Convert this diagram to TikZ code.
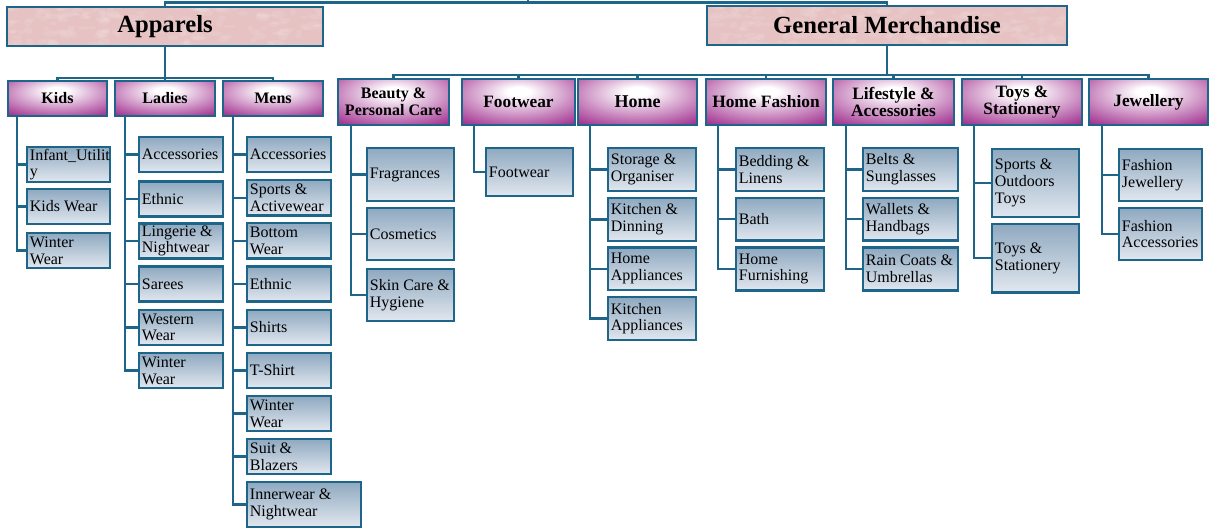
\documentclass[tikz,border=0pt]{standalone}
\usepackage{fontspec}
\setmainfont{Liberation Serif}
\usetikzlibrary{calc}
\definecolor{lineblue}{HTML}{1D6689}
\definecolor{catpurple}{HTML}{9E2A8C}
\definecolor{leaftop}{HTML}{8FA9C0}
\definecolor{leafbot}{HTML}{E1E7EF}
\definecolor{marble}{HTML}{E6C2C3}
\pgfdeclareradialshading{purpbox}{\pgfpoint{0bp}{12bp}}{color(0bp)=(white); color(5bp)=(white); color(40bp)=(catpurple); color(90bp)=(catpurple)}
\pgfdeclarelayer{background}
\pgfsetlayers{background,main}
\tikzset{
  conn/.style={draw=lineblue, line width=1.8pt},
  hdrfill/.style={fill=marble, draw=none, inner sep=0pt, outer sep=0pt},
  hdrbox/.style={draw=lineblue, line width=1.8pt, inner sep=0pt, outer sep=0pt, font=\fontsize{18.5}{20}\selectfont\bfseries},
  catbox/.style={draw=lineblue, line width=1.8pt, shade, shading=purpbox, inner sep=0pt, outer sep=0pt, align=center},
  leafbox/.style={draw=lineblue, line width=1.8pt, top color=leaftop, bottom color=leafbot, inner sep=0pt, outer sep=0pt},
  leaftext/.style={inner sep=0pt, align=left, anchor=west, font=\fontsize{12}{12.5}\selectfont},
}
\newcommand\myleaf[6]{%
  \pgfmathsetmacro\bw{(#4-#2)*0.75}%
  \pgfmathsetmacro\bh{(#5-#3)*0.75}%
  \node[leafbox, minimum width=\bw pt, minimum height=\bh pt] (#1) at ({(#2+#4)/2},{(#3+#5)/2}) {};
  \node[leaftext] (#1-t) at ([xshift=2pt]#1.west) {#6};
}
\newcommand\mycat[7]{%
  \pgfmathsetmacro\bw{(#4-#2)*0.75}%
  \pgfmathsetmacro\bh{(#5-#3)*0.75}%
  \node[catbox, minimum width=\bw pt, minimum height=\bh pt, font=#6] (#1) at ({(#2+#4)/2},{(#3+#5)/2}) {#7};
}
\newcommand\myhdr[6]{%
  \pgfmathsetmacro\bw{(#4-#2)*0.75}%
  \pgfmathsetmacro\bh{(#5-#3)*0.75}%
  \node[hdrfill, minimum width=\bw pt, minimum height=\bh pt] (#1-bg) at ({(#2+#4)/2},{(#3+#5)/2}) {};
  \begin{scope}
    \clip (#1-bg.south west) rectangle (#1-bg.north east);
    \foreach \i in {1,...,160} {
      \fill[white, opacity=0.09] ({#2+(#4-#2)*rnd},{#3+(#5-#3)*rnd}) ellipse [x radius={(2+4*rnd)*1pt}, y radius={(1+2*rnd)*1pt}];
    }
  \end{scope}
  \node[hdrbox, minimum width=\bw pt, minimum height=\bh pt] (#1) at ({(#2+#4)/2},{(#3+#5)/2}) {#6};
}
\begin{document}
\begin{tikzpicture}[x=0.75pt,y=-0.75pt]
\useasboundingbox (0,0) rectangle (1210,529);
\pgfmathsetseed{11}
% headers
\myhdr{apparels}{7}{7}{323}{46}{Apparels}
\myhdr{gm}{707}{6}{1067}{45}{General Merchandise}
% apparels categories
\mycat{kids}{8}{81}{107}{116}{\fontsize{12}{12.5}\selectfont\bfseries}{Kids}
\mycat{ladies}{115}{81}{215}{116}{\fontsize{12}{12.5}\selectfont\bfseries}{Ladies}
\mycat{mens}{223}{81}{323}{116}{\fontsize{12}{12.5}\selectfont\bfseries}{Mens}
% gm categories
\mycat{beauty}{338}{79}{449}{125}{\fontsize{12}{12.5}\selectfont\bfseries}{Beauty \&\\Personal Care}
\mycat{footwear}{462}{79}{575}{125}{\fontsize{13}{13}\selectfont\bfseries}{Footwear}
\mycat{home}{578}{79}{697}{125}{\fontsize{13.5}{13}\selectfont\bfseries}{Home}
\mycat{homefashion}{706}{79}{826}{125}{\fontsize{13}{13}\selectfont\bfseries}{Home Fashion}
\mycat{lifestyle}{833}{79}{954}{125}{\fontsize{13}{13}\selectfont\bfseries}{Lifestyle \&\\Accessories}
\mycat{toys}{962}{79}{1082}{125}{\fontsize{13}{13}\selectfont\bfseries}{Toys \&\\Stationery}
\mycat{jewellery}{1089}{79}{1208}{125}{\fontsize{13}{13}\selectfont\bfseries}{Jewellery}
% kids leaves
\myleaf{k1}{27}{147}{110}{182}{Infant\_Utilit\\y}
\myleaf{k2}{27}{189}{110}{224}{Kids Wear}
\myleaf{k3}{27}{233}{110}{268}{Winter\\Wear}
% ladies leaves
\myleaf{l1}{139}{137}{223}{172}{Accessories}
\myleaf{l2}{139}{181.5}{223}{216.5}{Ethnic}
\myleaf{l3}{139}{223.5}{223}{258.5}{Lingerie \&\\Nightwear}
\myleaf{l4}{139}{266.5}{223}{301.5}{Sarees}
\myleaf{l5}{139}{310}{223}{345}{Western\\Wear}
\myleaf{l6}{139}{353}{223}{388}{Winter\\Wear}
% mens leaves
\myleaf{m1}{247}{137}{331}{172}{Accessories}
\myleaf{m2}{247}{180}{331}{215.5}{Sports \&\\Activewear}
\myleaf{m3}{247}{223}{331}{258.5}{Bottom\\Wear}
\myleaf{m4}{247}{266.5}{331}{301.5}{Ethnic}
\myleaf{m5}{247}{310}{331}{345}{Shirts}
\myleaf{m6}{247}{353}{331}{388}{T-Shirt}
\myleaf{m7}{247}{396}{331}{431}{Winter\\Wear}
\myleaf{m8}{247}{439}{331}{474}{Suit \&\\Blazers}
\myleaf{m9}{247}{482}{361}{527}{Innerwear \&\\Nightwear}
% beauty leaves
\myleaf{b1}{367}{148}{454}{201}{Fragrances}
\myleaf{b2}{367}{208}{454}{260}{Cosmetics}
\myleaf{b3}{367}{269}{454}{321}{Skin Care \&\\Hygiene}
% footwear leaf
\myleaf{f1}{486}{148}{573}{196}{Footwear}
% home leaves
\myleaf{h1}{608}{148}{696}{191}{Storage \&\\Organiser}
\myleaf{h2}{608}{198}{696}{241}{Kitchen \&\\Dinning}
\myleaf{h3}{608}{247.5}{696}{290}{Home\\Appliances}
\myleaf{h4}{608}{297}{696}{340}{Kitchen\\Appliances}
% home fashion leaves
\myleaf{hf1}{736}{148}{824}{191}{Bedding \&\\Linens}
\myleaf{hf2}{736}{198}{824}{240.5}{Bath}
\myleaf{hf3}{736}{247.5}{824}{290.5}{Home\\Furnishing}
% lifestyle leaves
\myleaf{ls1}{863}{148}{958}{191}{Belts \&\\Sunglasses}
\myleaf{ls2}{863}{198}{958}{240.5}{Wallets \&\\Handbags}
\myleaf{ls3}{863}{247.5}{958}{290.5}{Rain Coats \&\\Umbrellas}
% toys leaves
\myleaf{t1}{992}{149}{1079}{217}{Sports \&\\Outdoors\\Toys}
\myleaf{t2}{992}{224}{1079}{292.5}{Toys \&\\Stationery}
% jewellery leaves
\myleaf{j1}{1119}{149}{1202}{201}{Fashion\\Jewellery}
\myleaf{j2}{1119}{208}{1202}{260}{Fashion\\Accessories}
% coordinates for connectors
\coordinate (root) at (528,2.5);
\coordinate (rootup) at (528,-4);
\path (apparels.south) ++(0,32) coordinate (appbus);
\path (gm.south) ++(0,30) coordinate (gmbus);
\coordinate (kidsv) at (17,116);
\coordinate (ladiesv) at (125,116);
\coordinate (mensv) at (233,116);
\coordinate (beautyv) at (351,125);
\coordinate (footwearv) at (474,125);
\coordinate (homev) at (590,125);
\coordinate (hfv) at (718,125);
\coordinate (lsv) at (846,125);
\coordinate (toysv) at (974,125);
\coordinate (jewv) at (1102,125);
\begin{pgfonlayer}{background}
  \draw[conn] (rootup) -- (root);
  \draw[conn] (root) -| (apparels.north);
  \draw[conn] (root) -| (gm.north);
  \draw[conn] (apparels.south) -- (appbus);
  \foreach \c in {kids,ladies,mens} { \draw[conn] (appbus) -| (\c.north); }
  \draw[conn] (gm.south) -- (gmbus);
  \foreach \c in {beauty,footwear,home,homefashion,lifestyle,toys,jewellery} { \draw[conn] (gmbus) -| (\c.north); }
  \foreach \l in {k1,k2,k3} { \draw[conn] (kidsv) |- (\l.west); }
  \foreach \l in {l1,l2,l3,l4,l5,l6} { \draw[conn] (ladiesv) |- (\l.west); }
  \foreach \l in {m1,m2,m3,m4,m5,m6,m7,m8,m9} { \draw[conn] (mensv) |- (\l.west); }
  \foreach \l in {b1,b2,b3} { \draw[conn] (beautyv) |- (\l.west); }
  \draw[conn] (footwearv) |- (f1.west);
  \foreach \l in {h1,h2,h3,h4} { \draw[conn] (homev) |- (\l.west); }
  \foreach \l in {hf1,hf2,hf3} { \draw[conn] (hfv) |- (\l.west); }
  \foreach \l in {ls1,ls2,ls3} { \draw[conn] (lsv) |- (\l.west); }
  \foreach \l in {t1,t2} { \draw[conn] (toysv) |- (\l.west); }
  \foreach \l in {j1,j2} { \draw[conn] (jewv) |- (\l.west); }
\end{pgfonlayer}
\end{tikzpicture}
\end{document}
